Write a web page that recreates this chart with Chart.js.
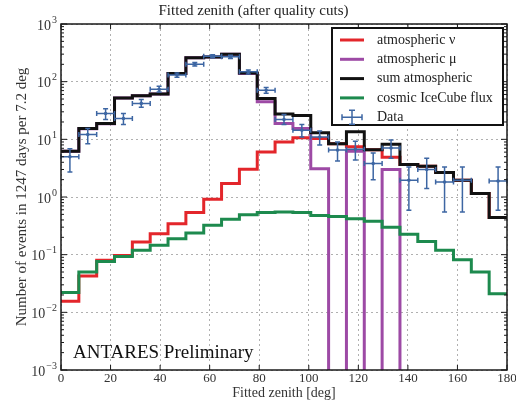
<!DOCTYPE html>
<html><head><meta charset="utf-8">
<script src="https://cdn.jsdelivr.net/npm/chart.js@4/dist/chart.umd.min.js"></script>
<style>html,body{margin:0;padding:0;background:#fff}#wrap{width:516px;height:402px}</style>
</head><body><div id="wrap"><canvas id="c" width="516" height="402"></canvas></div>
<script>
// ---- data ----
const binEdges = [0, 7.2, 14.4, 21.6, 28.8, 36, 43.2, 50.4, 57.6, 64.8, 72, 79.2, 86.4, 93.6, 100.8, 108, 115.2, 122.4, 129.6, 136.8, 144, 151.2, 158.4, 165.6, 172.8, 180];
const atmNu = [0.0156, 0.0425, 0.080, 0.097, 0.166, 0.231, 0.345, 0.536, 0.91, 1.71, 3.03, 6.04, 9.0, 10.6, 10.3, 8.4, 7.4, 6.6, 4.9, 3.65, 3.4, 2.65, 1.95, 1.15, 0.44];
const atmMu = [6.2, 15.3, 18.7, 52, 57, 61, 138, 259, 268, 298, 139, 45, 18.8, 15.4, 3.1, 0, 6.2, 0, 3.0, 0, 0, 0, 0, 0, 0];
const sumAtm = [6.2, 15.4, 18.8, 52, 57, 61, 139, 260, 269, 300, 142, 51, 27.5, 26, 13, 8.4, 13.5, 6.6, 8.2, 3.65, 3.4, 2.65, 1.95, 1.15, 0.44];
const cosmic = [0.022, 0.050, 0.0765, 0.093, 0.119, 0.145, 0.189, 0.237, 0.323, 0.41, 0.494, 0.536, 0.55, 0.536, 0.48, 0.46, 0.42, 0.38, 0.30, 0.225, 0.17, 0.119, 0.082, 0.050, 0.021];
const dataVal = [5.0, 12.1, 28, 23, 42, 74, 130, 200, 277, 270, 148, 71, 22, 14.4, 11, 6.5, 6.7, 3.8, 7.1, 1.95, 3.0, 1.82, 1.95, null, 1.9];
const dataLo  = [2.7, 8.4, 22, 18, 36, 66, 119, 186, 260, 253, 136, 63, 18, 11, 8, 4.2, 4.4, 2.0, 4.7, 0.59, 1.4, 0.55, 0.55, null, 0.59];
const dataHi  = [6.9, 15.4, 34, 28, 49, 83, 142, 214, 294, 287, 160, 79, 27, 18, 14, 9, 9.3, 5.8, 9.7, 3.3, 4.7, 3.3, 3.3, null, 3.3];
const xTickLabels = ['0', '20', '40', '60', '80', '100', '120', '140', '160', '180'];
const yTickValues = [1e-3, 1e-2, 1e-1, 1, 10, 100, 1000];
const yTickBase = '10';
const yTickExp = ['\u22123', '\u22122', '\u22121', '0', '1', '2', '3'];
const seriesNames = ['atmospheric \u03BD', 'atmospheric \u03BC', 'sum atmospheric', 'cosmic IceCube flux', 'Data'];
const titleText = 'Fitted zenith (after quality cuts)';
const xTitle = 'Fitted zenith [deg]';
const yTitle = 'Number of events in 1247 days per 7.2 deg';
const watermark = 'ANTARES Preliminary';

// ---- styles ----
const COLORS = ['#e3262b', '#9d4aa5', '#111111', '#1d8a4e', '#3d66a3'];
const SERIF = "'Liberation Serif', 'DejaVu Serif', serif";
const FLOOR = 1e-5; // zero bins drawn below the axis floor

function steps(vals) {
  const pts = vals.map((v, i) => ({x: binEdges[i], y: v > 0 ? v : FLOOR}));
  const last = vals[vals.length - 1];
  pts.push({x: binEdges[binEdges.length - 1], y: last > 0 ? last : FLOOR});
  return pts;
}
const dataPts = dataVal.map((v, i) => ({x: (binEdges[i] + binEdges[i + 1]) / 2, y: v}));

function lineDs(label, vals, color, order) {
  return {label, data: steps(vals), borderColor: color, backgroundColor: color, borderWidth: 3,
    stepped: 'before', pointRadius: 0, fill: false, order, clip: 0, borderJoinStyle: 'miter'};
}

const overlay = {
  id: 'overlay',
  afterDatasetsDraw(chart) {
    const {ctx} = chart;
    const xs = chart.scales.x, ys = chart.scales.y;
    ctx.save();
    ctx.strokeStyle = COLORS[4];
    ctx.lineWidth = 1.5;
    for (let i = 0; i < dataVal.length; i++) {
      if (dataVal[i] == null) continue;
      const x1 = xs.getPixelForValue(binEdges[i]), x2 = xs.getPixelForValue(binEdges[i + 1]);
      const cx = (x1 + x2) / 2;
      const cy = ys.getPixelForValue(dataVal[i]);
      const yl = ys.getPixelForValue(dataLo[i]), yh = ys.getPixelForValue(dataHi[i]);
      ctx.beginPath();
      ctx.moveTo(x1, cy); ctx.lineTo(x2, cy);
      ctx.moveTo(cx, yl); ctx.lineTo(cx, yh);
      ctx.moveTo(cx - 2.5, yl); ctx.lineTo(cx + 2.5, yl);
      ctx.moveTo(cx - 2.5, yh); ctx.lineTo(cx + 2.5, yh);
      ctx.moveTo(x1, cy - 2.5); ctx.lineTo(x1, cy + 2.5);
      ctx.moveTo(x2, cy - 2.5); ctx.lineTo(x2, cy + 2.5);
      ctx.stroke();
    }
    ctx.restore();
  },
  afterDraw(chart) {
    const {ctx, chartArea: ca} = chart;
    const xs = chart.scales.x, ys = chart.scales.y;
    ctx.save();
    // frame
    ctx.strokeStyle = '#1a1a1a';
    ctx.lineWidth = 1.5;
    ctx.strokeRect(ca.left, ca.top, ca.right - ca.left, ca.bottom - ca.top);
    // inner ticks
    ctx.lineWidth = 1;
    ctx.beginPath();
    xs.ticks.forEach(t => {
      const px = xs.getPixelForValue(t.value);
      ctx.moveTo(px, ca.bottom); ctx.lineTo(px, ca.bottom - 5);
      ctx.moveTo(px, ca.top); ctx.lineTo(px, ca.top + 5);
    });
    for (let k = -3; k <= 3; k++) {
      for (let m = 1; m <= 9; m++) {
        const v = m * Math.pow(10, k);
        if (v > 1000.0001) continue;
        const py = ys.getPixelForValue(v);
        const len = m === 1 ? 6 : 3;
        ctx.moveTo(ca.left, py); ctx.lineTo(ca.left + len, py);
        ctx.moveTo(ca.right, py); ctx.lineTo(ca.right - len, py);
      }
    }
    ctx.stroke();
    // y tick labels with superscripts
    ctx.fillStyle = '#333';
    yTickValues.forEach((v, i) => {
      const py = ys.getPixelForValue(v);
      ctx.font = '10px ' + SERIF;
      ctx.textAlign = 'right';
      ctx.textBaseline = 'middle';
      const ew = ctx.measureText(yTickExp[i]).width;
      ctx.fillText(yTickExp[i], ca.left - 4, py - 4);
      ctx.font = '14px ' + SERIF;
      ctx.fillText(yTickBase, ca.left - 5 - ew, py + 2);
    });
    // watermark
    ctx.font = '19px ' + SERIF;
    ctx.fillStyle = '#111';
    ctx.textAlign = 'left';
    ctx.textBaseline = 'alphabetic';
    ctx.fillText(watermark, ca.left + 12, ca.bottom - 12);
    // legend
    const bx2 = ca.right - 4, bx1 = bx2 - 171, by1 = ca.top + 4, by2 = by1 + 97;
    ctx.fillStyle = '#fff';
    ctx.fillRect(bx1, by1, bx2 - bx1, by2 - by1);
    ctx.strokeStyle = '#111';
    ctx.lineWidth = 2;
    ctx.strokeRect(bx1, by1, bx2 - bx1, by2 - by1);
    ctx.font = '14px ' + SERIF;
    ctx.textBaseline = 'middle';
    ctx.textAlign = 'left';
    seriesNames.forEach((name, i) => {
      const ry = by1 + 12 + i * 19.3;
      ctx.strokeStyle = COLORS[i];
      if (i < 4) {
        ctx.lineWidth = 3;
        ctx.beginPath(); ctx.moveTo(bx1 + 8, ry); ctx.lineTo(bx1 + 32, ry); ctx.stroke();
      } else {
        ctx.lineWidth = 1.5;
        const cx = bx1 + 20;
        ctx.beginPath();
        ctx.moveTo(cx - 10, ry); ctx.lineTo(cx + 10, ry);
        ctx.moveTo(cx, ry - 7); ctx.lineTo(cx, ry + 7);
        ctx.moveTo(cx - 3, ry - 7); ctx.lineTo(cx + 3, ry - 7);
        ctx.moveTo(cx - 3, ry + 7); ctx.lineTo(cx + 3, ry + 7);
        ctx.moveTo(cx - 10, ry - 3); ctx.lineTo(cx - 10, ry + 3);
        ctx.moveTo(cx + 10, ry - 3); ctx.lineTo(cx + 10, ry + 3);
        ctx.stroke();
      }
      ctx.fillStyle = '#222';
      ctx.fillText(name, bx1 + 45, ry);
    });
    ctx.restore();
  }
};

new Chart(document.getElementById('c'), {
  type: 'line',
  data: {
    datasets: [
      lineDs(seriesNames[0], atmNu, COLORS[0], 4),
      lineDs(seriesNames[1], atmMu, COLORS[1], 3),
      lineDs(seriesNames[2], sumAtm, COLORS[2], 2),
      lineDs(seriesNames[3], cosmic, COLORS[3], 1),
      {label: seriesNames[4], data: dataPts, showLine: false, pointRadius: 1.8, pointBorderWidth: 0,
       pointBackgroundColor: COLORS[4], borderColor: COLORS[4], backgroundColor: COLORS[4], order: 0}
    ]
  },
  options: {
    responsive: false,
    animation: false,
    devicePixelRatio: 1,
    layout: {padding: {left: 0, right: 9, top: 0, bottom: 0}},
    plugins: {
      legend: {display: false},
      tooltip: {enabled: false},
      title: {display: true, text: titleText, color: '#222', font: {family: SERIF, size: 15, weight: 'normal'}, padding: {top: 2, bottom: 4}}
    },
    scales: {
      x: {
        type: 'linear', min: 0, max: 180,
        ticks: {stepSize: 20, autoSkip: false, maxRotation: 0, color: '#333', padding: 1,
                font: {family: SERIF, size: 13}, callback: (v, i) => xTickLabels[i]},
        grid: {drawTicks: false, color: '#b0b0b0', lineWidth: 1},
        border: {display: false, dash: [2, 3]},
        title: {display: true, text: xTitle, color: '#333', font: {family: SERIF, size: 14}, padding: {top: 0, bottom: 0}},
        afterFit: s => { s.height = 32; s.paddingLeft = 0; s.paddingRight = 0; }
      },
      y: {
        type: 'logarithmic', min: 1e-3, max: 1e3,
        afterBuildTicks: s => { s.ticks = yTickValues.map(v => ({value: v, major: true})); },
        ticks: {display: false},
        grid: {drawTicks: false, color: '#b0b0b0', lineWidth: 1},
        border: {display: false, dash: [2, 3]},
        title: {display: true, text: yTitle, color: '#333', font: {family: SERIF, size: 15}, padding: {top: 13, bottom: 0}},
        afterFit: s => { s.width = 61; s.paddingTop = 0; s.paddingBottom = 0; }
      }
    }
  },
  plugins: [overlay]
});
</script>
</body></html>
